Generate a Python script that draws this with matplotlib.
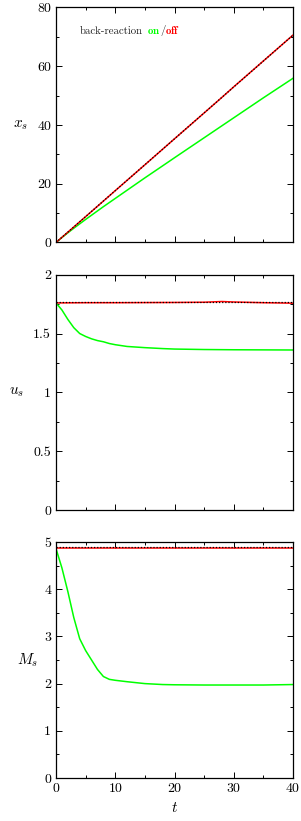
import matplotlib
matplotlib.use("Agg")
import matplotlib.pyplot as plt
from matplotlib.ticker import MultipleLocator, FuncFormatter
from matplotlib.offsetbox import TextArea, HPacker, AnnotationBbox

plt.rcParams['font.family'] = 'serif'
plt.rcParams['font.serif'] = ['cmr10', 'DejaVu Serif']
plt.rcParams['mathtext.fontset'] = 'cm'
plt.rcParams['axes.formatter.use_mathtext'] = True

# ---- data ----
t_on = [0, 1, 2, 3, 4, 5, 6, 7, 8, 9, 10, 12, 15, 18, 20, 25, 30, 35, 40]
# x_s (back-reaction on)
xs_on = [0, 1.7, 3.3, 4.85, 6.35, 7.85, 9.3, 10.75, 12.2, 13.6, 15.0, 17.8, 22.0, 26.1, 28.85, 35.65, 42.45, 49.25, 55.9]
# u_s (back-reaction on)
us_on = [1.76, 1.70, 1.62, 1.55, 1.50, 1.475, 1.455, 1.44, 1.43, 1.415, 1.405, 1.39, 1.38, 1.372, 1.368, 1.364, 1.362, 1.361, 1.36]
# M_s (back-reaction on)
Ms_on = [4.86, 4.45, 3.95, 3.40, 2.95, 2.70, 2.50, 2.30, 2.15, 2.09, 2.07, 2.04, 2.00, 1.98, 1.975, 1.97, 1.97, 1.97, 1.98]

t_off = [0, 5, 10, 15, 20, 25, 28, 30, 35, 40]
xs_off = [0, 8.8, 17.65, 26.45, 35.3, 44.1, 49.4, 53.0, 61.8, 70.6]
us_off = [1.76, 1.762, 1.762, 1.763, 1.764, 1.766, 1.772, 1.768, 1.762, 1.758]
Ms_off = [4.87, 4.87, 4.87, 4.87, 4.87, 4.87, 4.87, 4.87, 4.87, 4.87]

t_ref = [0, 40]
xs_ref = [0, 70.6]
us_ref = [1.765, 1.765]
Ms_ref = [4.885, 4.885]

ylabels = [r'$x_s$', r'$u_s$', r'$M_s$']
ylims = [(0, 80), (0, 2), (0, 5)]
ymajor = [20, 0.5, 1]
yminor = [10, 0.25, 0.5]

fig = plt.figure(figsize=(3.01, 8.21), dpi=100)
W, H = 301.0, 821.0
boxes = [(7.5, 242.5), (274.7, 510), (542, 778)]
left, right = 56, 293

fmt = FuncFormatter(lambda v, p: '%g' % v)
axes = []
for i, (top, bot) in enumerate(boxes):
    ax = fig.add_axes([left / W, 1 - bot / H, (right - left) / W, (bot - top) / H])
    axes.append(ax)
    ax.set_xlim(0, 40)
    ax.set_ylim(*ylims[i])
    ax.xaxis.set_major_locator(MultipleLocator(10))
    ax.xaxis.set_minor_locator(MultipleLocator(5))
    ax.yaxis.set_major_locator(MultipleLocator(ymajor[i]))
    ax.yaxis.set_minor_locator(MultipleLocator(yminor[i]))
    ax.yaxis.set_major_formatter(fmt)
    ax.xaxis.set_major_formatter(fmt)
    ax.tick_params(which='both', direction='in', top=True, right=True, labelsize=10, width=0.7)
    ax.tick_params(which='major', length=4)
    ax.tick_params(which='minor', length=2)
    for s in ax.spines.values():
        s.set_linewidth(0.9)
    if i < 2:
        ax.tick_params(labelbottom=False)
    ax.set_ylabel(ylabels[i], rotation=0, fontsize=11, labelpad=12, va='center')

data = [(xs_on, xs_off, xs_ref), (us_on, us_off, us_ref), (Ms_on, Ms_off, Ms_ref)]
for ax, (on, off, ref) in zip(axes, data):
    ax.plot(t_on, on, color='#00ff00', lw=1.1, solid_joinstyle='round')
    ax.plot(t_off, off, color='#ff0000', lw=1.1)
    ax.plot(t_ref, ref, color='black', lw=0.9, ls=(0, (1, 1.5)))

axes[2].set_xlabel(r'$t$', fontsize=11, labelpad=4)

# legend text
fs = 7.8
ta1 = TextArea('back-reaction', textprops=dict(color='#222222', fontsize=fs))
ta2 = TextArea(r'$\mathbf{on}$', textprops=dict(color='#00ff00', fontsize=fs))
ta3 = TextArea('/', textprops=dict(color='#222222', fontsize=fs))
ta4 = TextArea(r'$\mathbf{off}$', textprops=dict(color='#ff0000', fontsize=fs))
pack2 = HPacker(children=[ta1, TextArea(' ', textprops=dict(fontsize=fs)),
                          HPacker(children=[ta2, ta3, ta4], align='baseline', pad=0, sep=0)],
                align='baseline', pad=0, sep=0)
ab = AnnotationBbox(pack2, (80 / W, 1 - 30 / H), xycoords='figure fraction',
                    box_alignment=(0, 0.5), frameon=False)
fig.add_artist(ab)

fig.savefig('out.png', dpi=100)
